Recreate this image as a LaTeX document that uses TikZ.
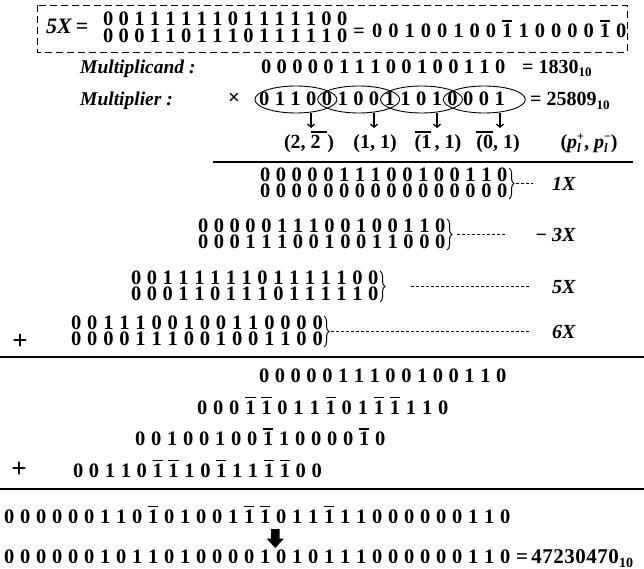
\documentclass[tikz,border=0pt]{standalone}
\usepackage{fontspec}
\setmainfont{Liberation Serif}
\usetikzlibrary{arrows.meta,decorations.pathreplacing}
\newlength\bitw
\newcommand\obar[3]{\setbox0\hbox{#3}\rlap{\kern-#1\raisebox{\dimexpr\ht0+2pt\relax}{\rule{\dimexpr\wd0+#1+#2\relax}{1.9pt}}}\box0}
\makeatletter
\def\bitrow#1{\bit@loop#1\relax}
\def\bit@loop#1{\ifx\relax#1\else\makebox[\bitw]{\bit@glyph#1}\expandafter\bit@loop\fi}
\def\bit@glyph#1{\ifx n#1\obar{0pt}{0pt}{1}\else\ifx z#1\obar{0pt}{0pt}{0}\else#1\fi\fi}
\makeatother
\newcommand\brow[5]{\node[bits] (#1) at ({#2-#4/2},#3) {\setlength\bitw{#4pt}\bitrow{#5}};}
\newcommand\subten[1][13]{\raisebox{-3.5pt}{\fontsize{#1}{#1}\selectfont 10}}
\newcommand\plm[1]{\textit{p}\rlap{\raisebox{-4pt}{\fontsize{13}{13}\selectfont\textit{l}}}\raisebox{7.5pt}{\fontsize{12}{12}\selectfont #1}}
\begin{document}
\begin{tikzpicture}[x=1pt,y=-1pt,
  bits/.style={inner sep=0pt,anchor=base west,font=\bfseries\fontsize{20.5}{20.5}\selectfont},
  txt/.style={inner sep=0pt,anchor=base,font=\bfseries\fontsize{20}{20}\selectfont},
  lbl/.style={inner sep=0pt,anchor=base west,font=\bfseries\itshape\fontsize{19.5}{19.5}\selectfont},
  xlab/.style={inner sep=0pt,anchor=base east,font=\bfseries\fontsize{20}{20}\selectfont},
  rulel/.style={line width=2pt},
  dbox/.style={dash pattern=on 7pt off 4pt, line width=0.9pt},
  ell/.style={line width=0.9pt},
  sarrow/.style={line width=1.3pt,-{Straight Barb[length=3pt,width=7pt]}},
  brc/.style={decorate,decoration={brace,amplitude=5pt},line width=1pt},
  dsh/.style={line width=1.1pt,dash pattern=on 3pt off 2pt},
  plus/.style={inner sep=0pt,font=\bfseries\fontsize{27}{27}\selectfont}
]
\useasboundingbox (0,0) rectangle (644,569);
% top box
\draw[dbox] (37,5) rectangle (627,52);
\node[inner sep=0pt,anchor=base west,font=\bfseries\fontsize{22}{22}\selectfont] (fivex) at (46,34) {\textit{5X}\,=};
\brow{a1}{108}{26}{15.6}{0011111101111100}
\brow{a2}{108}{42.5}{15.6}{0001101110111110}
\node[txt] (aeq) at (359,37.5) {=};
\brow{a3}{377}{37.5}{16.27}{00100100n10000n0}
% multiplicand / multiplier
\node[lbl] (mcl) at (80,73.5) {Multiplicand :};
\brow{mc}{266}{73.5}{15.6}{0000011100100110}
\node[txt,anchor=base west] (mceq) at (522,73.5) {= 1830\subten};
\node[lbl] (mpl) at (80,106) {Multiplier :};
\node[inner sep=0pt,font=\bfseries\fontsize{21}{21}\selectfont] (times) at (234,99) {×};
\foreach \k in {0,1,2,3} \draw[ell] ({295.9+62.8*\k},99.5) ellipse [x radius=41, y radius=13.5];
\brow{mp}{264}{106}{15.7}{0110010011010001}
\node[txt,anchor=base west] (mpeq) at (530,106) {= 25809\subten};
% arrows and pairs
\foreach \x/\i in {311/1,374/2,437/3,500/4}{
  \coordinate (t\i) at (\x,113.5);
  \coordinate (b\i) at (\x,128);
  \draw[sarrow] (t\i) -- (b\i);}
\node[txt] (l1) at (309,148.5) {(2, \obar{0pt}{0pt}{2\,\,})};
\node[txt] (l2) at (375,148.5) {(1, 1)};
\node[txt] (l3) at (438,148.5) {\obar{0pt}{0pt}{(1}\,, 1)};
\node[txt] (l4) at (498,148.5) {\obar{0pt}{0pt}{(0}, 1)};
\node[txt] (l5) at (589,148.5) {(\plm{+}, \plm{−})};
\draw[rulel] (213,162) -- (633,162);
% partial products
\brow{p1a}{265}{181.5}{15.8}{0000011100100110}
\brow{p1b}{265}{197.5}{15.8}{0000000000000000}
\draw[brc] (509,168) -- (509,199);
\draw[dsh] (516,183.5) -- (533,183.5);
\node[xlab] (x1) at (576,190.5) {\textit{1X}};
\brow{p2a}{203}{232.5}{15.8}{0000011100100110}
\brow{p2b}{203}{248.5}{15.8}{0001110010011000}
\draw[brc] (447,219) -- (447,250);
\draw[dsh] (457,234.5) -- (505,234.5);
\node[xlab] (x2) at (576,241.5) {−\hspace{5pt}\textit{3X}};
\brow{p3a}{136}{284.5}{15.8}{0011111101111100}
\brow{p3b}{136}{300.5}{15.8}{0001101110111110}
\draw[brc] (380,271) -- (380,302);
\draw[dsh] (411,286.5) -- (530,286.5);
\node[xlab] (x3) at (576,293.5) {\textit{5X}};
\brow{p4a}{76}{329.5}{16.1}{0011100100110000}
\brow{p4b}{76}{345.5}{16.1}{0000111001001100}
\draw[brc] (324,316) -- (324,347);
\draw[dsh] (331,331.5) -- (530,331.5);
\node[xlab] (x4) at (576,338.5) {\textit{6X}};
\node[plus] (plus1) at (20,342) {+};
\draw[rulel] (0,357) -- (644,357);
% result rows
\brow{r1}{264}{382.5}{15.8}{0000011100100110}
\brow{r2}{202}{414}{16.07}{000nn011n01nn110}
\brow{r3}{140}{445.5}{16}{00100100n10000n0}
\brow{r4}{78}{477}{15.9}{00110nn10n11nn00}
\node[plus] (plus2) at (19,470) {+};
\draw[rulel] (0,489) -- (644,489);
% final
\brow{f1}{9}{523}{16}{000000110n01001nn011n11000000110}
\fill (271,529) -- (279.5,529) -- (279.5,538.5) -- (284,538.5) -- (275.25,548) -- (266.5,538.5) -- (271,538.5) -- cycle;
\brow{f2}{9}{563.5}{16}{00000010110100001010111000000110}
\node[txt,anchor=base west,font=\bfseries\fontsize{21}{21}\selectfont] (feq) at (516,563.5) {=\hspace{3pt}\setlength\bitw{11pt}\bitrow{47230470}\subten[14]};
\end{tikzpicture}
\end{document}
